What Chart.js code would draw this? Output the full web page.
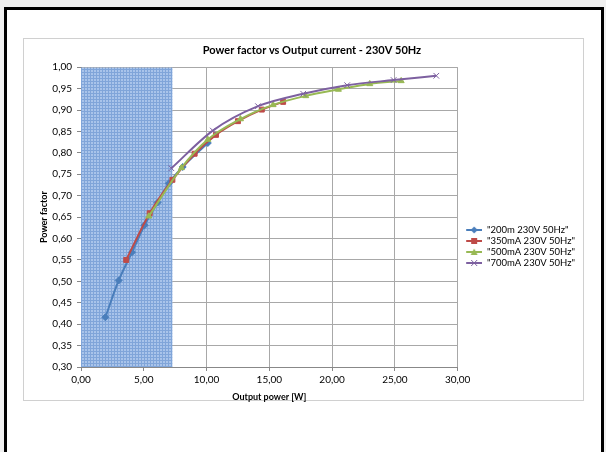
<!DOCTYPE html>
<html>
<head>
<meta charset="utf-8">
<script src="https://cdn.jsdelivr.net/npm/chart.js@4.4.0/dist/chart.umd.min.js"></script>
<style>
  html, body { margin: 0; padding: 0; background: #f0f0f0; }
  #page { position: absolute; left: 4px; top: 7px; width: 594px; height: 460px;
          border: 3px solid #000; background: #fff; }
  #frame { position: absolute; left: 23px; top: 38px; width: 561px; height: 363px;
           border: 1px solid #d0d0d0; box-sizing: border-box; background: #fff; }
  #frame canvas { position: absolute; left: 0; top: 0; }
</style>
</head>
<body>
<div id="page"></div>
<div id="frame"><canvas id="myChart" width="561" height="363"></canvas></div>
<script>
  // values
  var seriesNames = ['"200m 230V 50Hz"', '"350mA 230V 50Hz"', '"500mA 230V 50Hz"', '"700mA 230V 50Hz"'];
  var power200 = [1.94, 3.0, 4.06, 5.06, 6.1, 7.0, 8.1, 10.1];
  var pf200    = [0.416, 0.502, 0.568, 0.631, 0.684, 0.729, 0.767, 0.823];
  var power350 = [3.6, 5.47, 7.28, 9.05, 10.75, 12.5, 14.4, 16.1];
  var pf350    = [0.55, 0.659, 0.737, 0.798, 0.842, 0.874, 0.901, 0.919];
  var power500 = [5.4, 8.0, 10.1, 12.7, 15.3, 17.9, 20.5, 23.0, 25.5];
  var pf500    = [0.652, 0.765, 0.831, 0.879, 0.912, 0.933, 0.948, 0.961, 0.968];
  var power700 = [7.2, 10.5, 14.1, 17.7, 21.2, 24.9, 28.3];
  var pf700    = [0.764, 0.852, 0.909, 0.938, 0.958, 0.970, 0.980];
  var shadeX = [0, 7.3];   // hatched zone, output power range
  var shadeY = [1.0, 1.0];

  var colors = ['#4a7ebb', '#be4b48', '#98b954', '#7d60a0'];
  var markers = ['rectRot', 'rect', 'triangle', 'crossRot'];

  function pts(xs, ys) {
    var out = [];
    for (var i = 0; i < xs.length; i++) out.push({x: xs[i], y: ys[i]});
    return out;
  }
  function comma(v) { return Number(v).toFixed(2).replace('.', ','); }

  // blue grid hatch
  var pc = document.createElement('canvas');
  pc.width = 3; pc.height = 3;
  var px = pc.getContext('2d');
  px.fillStyle = '#a9c4ea';
  px.fillRect(0, 0, 3, 3);
  px.fillStyle = '#80a5d9';
  px.fillRect(0, 0, 3, 1);
  px.fillRect(0, 0, 1, 3);

  // legend swatch: short line with marker, blank space on the left
  var SW = 23;
  function swatch(i) {
    var c = document.createElement('canvas');
    c.width = SW; c.height = 8;
    var g = c.getContext('2d');
    var o = SW - 16;
    g.strokeStyle = colors[i]; g.lineWidth = 2;
    g.beginPath(); g.moveTo(o, 4); g.lineTo(o + 16, 4); g.stroke();
    g.fillStyle = colors[i];
    g.beginPath();
    if (markers[i] == 'rect') g.fillRect(o + 5, 1, 6, 6);
    else if (markers[i] == 'rectRot') { g.moveTo(o + 8, 0.5); g.lineTo(o + 11.5, 4); g.lineTo(o + 8, 7.5); g.lineTo(o + 4.5, 4); g.fill(); }
    else if (markers[i] == 'triangle') { g.moveTo(o + 8, 0.5); g.lineTo(o + 11.5, 7); g.lineTo(o + 4.5, 7); g.fill(); }
    else { g.lineWidth = 1; g.moveTo(o + 5, 1); g.lineTo(o + 11, 7); g.moveTo(o + 11, 1); g.lineTo(o + 5, 7); g.stroke(); }
    return c;
  }

  var ctx = document.getElementById('myChart').getContext('2d');
  var hatch = ctx.createPattern(pc, 'repeat');
  var xs = [power200, power350, power500, power700];
  var ys = [pf200, pf350, pf500, pf700];
  var datasets = [];
  for (var i = 0; i < 4; i++) {
    datasets.push({
      label: seriesNames[i],
      data: pts(xs[i], ys[i]),
      borderColor: colors[i],
      backgroundColor: colors[i],
      borderWidth: 2,
      pointStyle: markers[i],
      pointRadius: markers[i] == 'crossRot' ? 4 : 3.5,
      pointBorderWidth: 1,
      tension: 0.4,
      cubicInterpolationMode: 'monotone',
      fill: false,
      order: 4 - i
    });
  }
  datasets.push({
    label: 'zone',
    data: pts(shadeX, shadeY),
    borderWidth: 0,
    pointRadius: 0,
    backgroundColor: hatch,
    fill: 'start',
    order: 10
  });

  Chart.defaults.font.family = 'Lato, "DejaVu Sans", sans-serif';
  Chart.defaults.color = '#000';

  var myChart = new Chart(ctx, {
    type: 'line',
    data: { datasets: datasets },
    options: {
      responsive: false,
      animation: false,
      layout: { padding: { left: 15, right: 0, top: 0, bottom: 0 } },
      plugins: {
        tooltip: { enabled: false },
        title: {
          display: true,
          text: 'Power factor vs Output current - 230V 50Hz',
          font: { size: 11, weight: 'bold' },
          padding: { top: 5, bottom: 10 }
        },
        legend: {
          position: 'right',
          title: { display: true, text: ' ', font: { size: 10 }, padding: { top: 40, bottom: 0 } },
          labels: {
            usePointStyle: true,
            pointStyleWidth: SW,
            font: { size: 9.5 },
            padding: 1.5,
            filter: function (item) { return item.text != 'zone'; },
            generateLabels: function (chart) {
              var out = [];
              for (var i = 0; i < 4; i++) {
                out.push({ text: seriesNames[i], pointStyle: swatch(i), datasetIndex: i,
                           fontColor: '#000', lineWidth: 0, strokeStyle: colors[i], fillStyle: colors[i] });
              }
              return out;
            }
          }
        }
      },
      scales: {
        x: {
          type: 'linear',
          min: 0, max: 30,
          ticks: { stepSize: 5, callback: comma, font: { size: 10 }, padding: 3, maxRotation: 0 },
          grid: { color: '#a8a8a8', tickLength: 4, tickColor: '#888' },
          border: { color: '#888' },
          title: { display: true, text: 'Output power [W]', font: { size: 9, weight: 'bold' }, padding: 0 },
          afterFit: function (s) { s.height = 35; }
        },
        y: {
          min: 0.3, max: 1.0,
          ticks: { stepSize: 0.05, callback: comma, font: { size: 10 }, padding: 5 },
          grid: { color: '#a8a8a8', tickLength: 4, tickColor: '#888' },
          border: { color: '#888' },
          title: { display: true, text: 'Power factor', font: { size: 9, weight: 'bold' }, padding: 0 },
          afterFit: function (s) { s.width = 42; }
        }
      }
    }
  });
</script>
</body>
</html>
